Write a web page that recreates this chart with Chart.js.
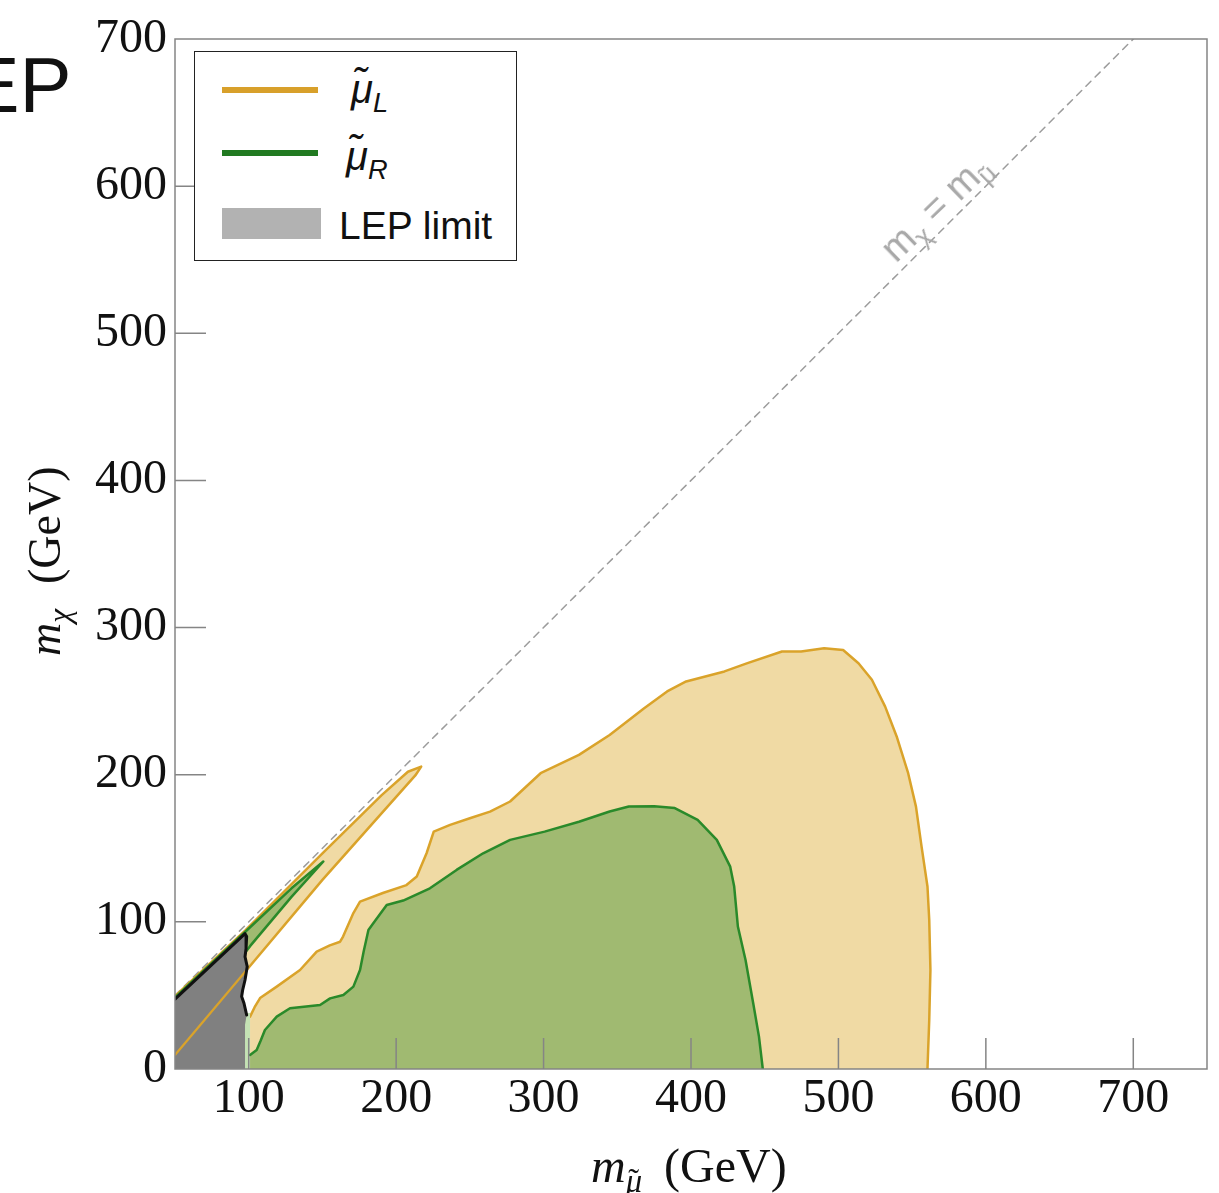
<!DOCTYPE html>
<html>
<head>
<meta charset="utf-8">
<script src="https://cdn.jsdelivr.net/npm/chart.js@4.4.0/dist/chart.umd.min.js"></script>
<style>
    html, body { margin: 0; padding: 0; background: #fff; }
    #wrap { position: relative; width: 1219px; height: 1193px; overflow: hidden; }
    #chart { position: absolute; left: 0; top: 0; }
    .ovl { position: absolute; white-space: nowrap; line-height: 1; color: #111; }
    .serif { font-family: 'Liberation Serif', 'DejaVu Serif', serif; }
    .sans { font-family: 'Liberation Sans', Arial, sans-serif; }
    sub { font-size: 0.68em; vertical-align: -0.32em; line-height: 0; }
    .acc { position: relative; display: inline-block; line-height: 1; }
    .acc .tl { position: absolute; left: 0.08em; top: 0; }
    #panel-tag { left: -76px; top: 46px; font-size: 78px; }
    #ytitle { left: 22px; top: 656px; font-size: 46px; transform-origin: 0 0; transform: rotate(-90deg); }
    #xtitle { left: 591px; top: 1142px; font-size: 48px; }
    #diag-label { left: 938px; top: 210px; font-size: 38px; color: #a8a8a8; transform: translate(-50%, -50%) rotate(-44deg); }
    #legend { left: 194px; top: 51px; width: 323px; height: 210px; box-sizing: border-box; border: 1.5px solid #222; background: #fff; }
    #legend .sw { position: absolute; left: 27px; width: 96px; height: 6px; }
    #legend .lab { position: absolute; }
</style>
</head>
<body>
<div id="wrap">
    <canvas id="chart" width="1219" height="1193"></canvas>
    <div class="ovl sans" id="panel-tag">LEP</div>
    <div class="ovl serif" id="ytitle"><i>m</i><sub><i>χ</i></sub><span style="margin-left:25px">(GeV)</span></div>
    <div class="ovl serif" id="xtitle"><i>m</i><sub><span class="acc"><i>μ</i><span class="tl">˜</span></span></sub><span style="margin-left:22px">(GeV)</span></div>
    <div class="ovl sans" id="diag-label">m<sub>χ</sub> = m<sub><span class="acc">μ<span class="tl">˜</span></span></sub></div>
    <div class="ovl" id="legend">
        <div class="sw" style="top:35px; background:#d8a02a;"></div>
        <div class="ovl sans lab" style="left:156px; top:17px; font-size:40px;"><i>μ̃</i><sub><i>L</i></sub></div>
        <div class="sw" style="top:98px; background:#217a21;"></div>
        <div class="ovl sans lab" style="left:151px; top:84px; font-size:40px;"><i>μ̃</i><sub><i>R</i></sub></div>
        <div class="sw" style="top:156px; width:99px; height:31px; background:#b2b2b2;"></div>
        <div class="ovl sans lab" style="left:144px; top:154px; font-size:39px;">LEP limit</div>
    </div>
</div>
<script>
    // axis ticks (GeV)
    const xTickValues = [100, 200, 300, 400, 500, 600, 700];
    const yTickValues = [0, 100, 200, 300, 400, 500, 600, 700];

    // diagonal m_chi = m_smuon
    const diagX = [50, 750];
    const diagY = [50, 750];

    // smuon_L excluded region, main contour (last point closes along the axis)
    const muLMainX = [100.9, 104, 107.7, 119, 134.8, 146.1, 155, 162, 164, 171, 175.5, 191, 207, 214, 220.7, 225.5, 236.6, 250, 263.7, 277.3, 298, 324, 344.8, 368, 383.8, 396.7, 422.7, 438.3, 461.7, 474.7, 490.3, 503.2, 513.6, 522.7, 531.7, 539.5, 547.3, 552.6, 556.4, 560.4, 561.6, 562.4, 561.6, 560.4, 100.9];
    const muLMainY = [35.6, 42, 48.2, 56, 67.3, 79.8, 84, 86.5, 90, 106, 113.7, 119.6, 125, 130.8, 146.8, 161.3, 165.9, 170.4, 174.9, 181.8, 201, 213.5, 227, 245, 256.6, 263.4, 270.2, 275.8, 283.7, 283.7, 286, 284.8, 275.8, 264.5, 246.3, 226, 201, 178.3, 151.1, 124, 101.3, 67.3, 33.3, 0, 0];

    // smuon_R excluded region, main contour
    const muRMainX = [100.9, 105.4, 108, 111, 119, 128, 148.4, 155.2, 164.2, 171, 175.5, 178, 181.2, 184.5, 193.6, 204.8, 222.9, 241, 259, 277.3, 300.7, 324, 344.8, 357.8, 375, 389, 404.5, 417.5, 426.6, 429.3, 431.8, 437, 442.2, 446.1, 448.7, 100.9];
    const muRMainY = [9.5, 12.9, 19, 26.5, 35.6, 41.3, 43.5, 48, 50.3, 56, 67.3, 80, 94.5, 99, 111.5, 114.5, 122.8, 135.3, 146.6, 155.7, 161.3, 168, 175, 178.4, 178.5, 177.3, 169.3, 155.7, 137.5, 124, 96.8, 74.1, 44.7, 22, 0, 0];

    // pale strip just left of 100 GeV
    const stripX = [97.5, 100.9, 100.9, 97.5];
    const stripY = [38, 38, 0, 0];

    // thin slivers along the diagonal: upper edge (left to tip), lower edge (tip to left)
    const muLSliverUpperX = [50, 97.5, 150, 190, 208, 217];
    const muLSliverUpperY = [49.5, 94, 146.5, 186, 202, 205.5];
    const muLSliverLowerX = [217, 213, 150, 98.6, 50];
    const muLSliverLowerY = [205.5, 199.5, 128.5, 67.3, 9.5];

    const muRSliverUpperX = [50, 97.5, 129, 150.6];
    const muRSliverUpperY = [48.6, 93.1, 122.8, 141];
    const muRSliverLowerX = [150.6, 129, 100.9, 97.5, 50];
    const muRSliverLowerY = [141, 117, 83.5, 79, 25];

    // LEP limit (grey); the first 11 points carry the black edge
    const lepX = [50, 97.5, 98.6, 98.2, 97.5, 99, 97.5, 95.9, 95.2, 96.8, 98.6, 97.5, 97.5, 50];
    const lepY = [47.5, 92, 90, 82, 76.3, 69.6, 60.5, 53.7, 49.2, 44.7, 36.7, 30, 0, 0];
    const lepEdgeCount = 11;

    const colL = '#daa32a', fillL = '#f0daa4';
    const colR = '#2a8a2a', fillR = '#a0ba71';

    function pts(xs, ys) {
        return xs.map(function(x, i) { return { x: x, y: ys[i] }; });
    }

    // filled polygon, no border
    function area(points, color, order) {
        return { data: points, showLine: true, fill: 'shape', backgroundColor: color,
                 borderColor: 'transparent', borderWidth: 0, pointRadius: 0, order: order };
    }

    // plain line
    function edge(points, color, width, order) {
        return { data: points, showLine: true, fill: false, borderColor: color, borderWidth: width,
                 borderJoinStyle: 'round', borderCapStyle: 'round', pointRadius: 0, order: order };
    }

    const muLMain = pts(muLMainX, muLMainY);
    const muRMain = pts(muRMainX, muRMainY);
    const muLSliver = pts(muLSliverUpperX.concat(muLSliverLowerX), muLSliverUpperY.concat(muLSliverLowerY));
    const muRSliver = pts(muRSliverUpperX.concat(muRSliverLowerX), muRSliverUpperY.concat(muRSliverLowerY));
    const muLLowerInLep = pts(muLSliverLowerX, muLSliverLowerY).filter(function(p) { return p.x <= 100; });
    const lep = pts(lepX, lepY);

    const datasets = [
        edge(pts(diagX, diagY), '#9c9c9c', 1.5, 20),
        area(muLMain, fillL, 19),
        edge(muLMain.slice(0, -1), colL, 2.5, 18),
        area(muRMain, fillR, 17),
        edge(muRMain.slice(0, -1), colR, 2.5, 16),
        area(pts(stripX, stripY), '#c4e2b4', 16),
        area(muLSliver, fillL, 15),
        edge(muLSliver.concat([muLSliver[0]]), colL, 2.5, 14),
        area(muRSliver, fillR, 13),
        edge(muRSliver.concat([muRSliver[0]]), colR, 2.5, 12),
        area(lep, '#808080', 11),
        edge(muLLowerInLep, colL, 2.2, 10),
        edge(lep.slice(0, lepEdgeCount), '#111', 3, 9)
    ];
    datasets[0].borderDash = [7, 6];

    // inward tick marks and the grey frame
    const frameTicks = {
        id: 'frameTicks',
        afterDatasetsDraw(chart) {
            const ctx = chart.ctx;
            const a = chart.chartArea;
            const x = chart.scales.x, y = chart.scales.y;
            ctx.save();
            ctx.strokeStyle = '#858585';
            ctx.lineWidth = 1.5;
            ctx.beginPath();
            xTickValues.forEach(function(v) {
                const px = x.getPixelForValue(v);
                ctx.moveTo(px, a.bottom);
                ctx.lineTo(px, a.bottom - 31);
            });
            yTickValues.slice(1, -1).forEach(function(v) {
                const py = y.getPixelForValue(v);
                ctx.moveTo(a.left, py);
                ctx.lineTo(a.left + 31, py);
            });
            ctx.stroke();
            ctx.strokeRect(a.left, a.top, a.right - a.left, a.bottom - a.top);
            ctx.restore();
        }
    };

    const tickFont = { family: "'Liberation Serif', 'DejaVu Serif', serif", size: 48 };

    new Chart(document.getElementById('chart'), {
        type: 'scatter',
        data: { datasets: datasets },
        options: {
            responsive: false,
            animation: false,
            events: [],
            layout: { padding: { top: 39, right: 12, left: 0, bottom: 0 } },
            plugins: { legend: { display: false }, tooltip: { enabled: false } },
            scales: {
                x: {
                    type: 'linear', min: 50, max: 750,
                    afterBuildTicks: function(s) { s.ticks = xTickValues.map(function(v) { return { value: v }; }); },
                    afterFit: function(s) { s.height = 124; },
                    grid: { display: false, drawTicks: false },
                    border: { display: false },
                    ticks: { font: tickFont, color: '#111', padding: 2, maxRotation: 0, autoSkip: false }
                },
                y: {
                    type: 'linear', min: 0, max: 700,
                    afterBuildTicks: function(s) { s.ticks = yTickValues.map(function(v) { return { value: v }; }); },
                    afterFit: function(s) { s.width = 175; },
                    grid: { display: false, drawTicks: false },
                    border: { display: false },
                    ticks: { font: tickFont, color: '#111', padding: 8, autoSkip: false }
                }
            }
        },
        plugins: [frameTicks]
    });
</script>
</body>
</html>
